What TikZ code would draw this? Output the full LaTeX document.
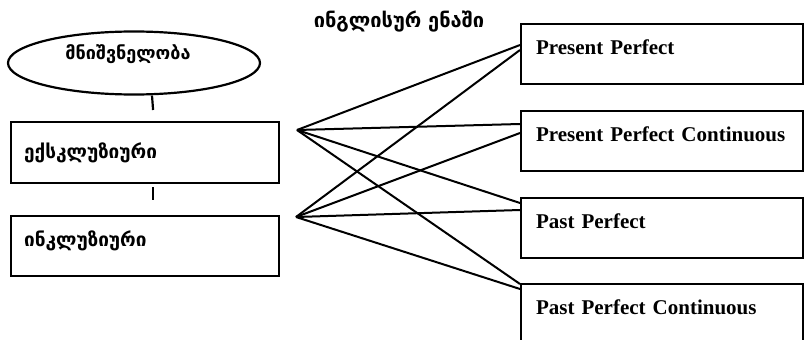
\documentclass[tikz,border=0pt]{standalone}
\usepackage{fontspec}
\setmainfont{Liberation Serif}
\newfontfamily\geofont{DejaVu Sans}
\usetikzlibrary{shapes.geometric}
\begin{document}
\begin{tikzpicture}[x=1pt,y=-1pt,line width=2.2pt,
  geo/.style={font=\geofont\bfseries\fontsize{18}{21}\selectfont},
  eng/.style={font=\bfseries\fontsize{21}{24}\selectfont},
  lbox/.style={draw,rectangle,anchor=north west,inner ysep=0pt,inner xsep=13pt,
     minimum width=268pt,text width=242pt,align=left,geo},
  rbox/.style={draw,rectangle,anchor=north west,inner ysep=0pt,inner xsep=15pt,
     minimum width=282pt,text width=252pt,align=left,eng,text height=30pt,text depth=30pt},
  link/.style={line width=2pt}]
\useasboundingbox[clip] (0,0) rectangle (804,340);
\node[draw,ellipse,minimum width=252pt,minimum height=63pt] (e) at (134,63) {};
\node[geo] (et) at (128,54) {მნიშვნელობა};
\node (b1) [lbox,font=\geofont\bfseries\fontsize{19}{22}\selectfont,text height=36pt,text depth=25pt] at (10,121) {ექსკლუზიური};
\node (b2) [lbox,font=\geofont\bfseries\fontsize{19}{22}\selectfont,text height=30pt,text depth=30pt] at (10,215) {ინკლუზიური};
\node[geo,font=\geofont\bfseries\fontsize{20}{23}\selectfont] (t) at (399,22) {ინგლისურ ენაში};
\node (A) [rbox] at (520,23) {Present Perfect};
\node (B) [rbox] at (520,110) {Present Perfect Continuous};
\node (C) [rbox] at (520,197) {Past Perfect};
\node (D) [rbox,text depth=50pt] at (520,283) {Past Perfect Continuous};
\coordinate (f1) at (297,130);
\coordinate (f2) at (296,217);
\draw ([xshift=18pt]e.south) -- ([xshift=8pt,yshift=11pt]b1.north);
\draw ([xshift=8pt,yshift=-3pt]b1.south) -- ([xshift=8pt,yshift=15pt]b2.north);
\draw[link] (f1) -- ([yshift=-22pt]A.north west);
\draw[link] (f2) -- ([yshift=-27pt]A.north west);
\draw[link] (f1) -- ([yshift=-14pt]B.north west);
\draw[link] (f2) -- ([yshift=-23pt]B.north west);
\draw[link] (f1) -- ([yshift=-6pt]C.north west);
\draw[link] (f2) -- ([yshift=-13pt]C.north west);
\draw[link] (f1) -- ([yshift=-1pt]D.north west);
\draw[link] (f2) -- ([yshift=-6pt]D.north west);
\end{tikzpicture}
\end{document}
